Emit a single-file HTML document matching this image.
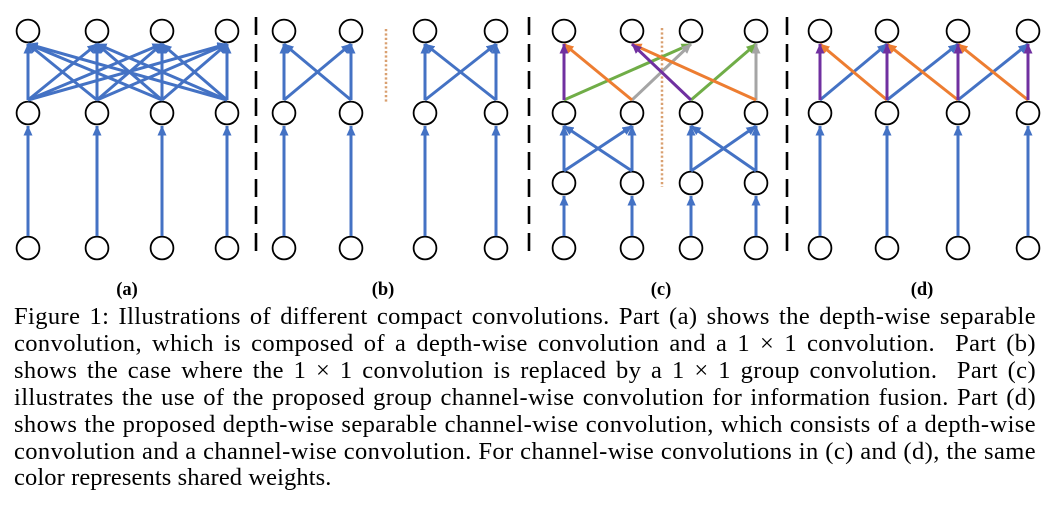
<!DOCTYPE html>
<html>
<head>
<meta charset="utf-8">
<style>
  html, body { margin:0; padding:0; background:#fff; }
  body { width:1058px; height:510px; overflow:hidden; position:relative; }
  svg { display:block; position:absolute; left:0; top:0; }
  .lab { font-family:"Liberation Serif", "Times New Roman", serif; font-size:18.5px; font-weight:bold; fill:#000; }
  #cap { position:absolute; left:14px; top:304.3px; width:1022px; font-family:"Liberation Serif", "Times New Roman", serif; font-size:24.5px; line-height:26.85px; color:#000; }
  #cap div { white-space:nowrap; text-align:justify; text-align-last:justify; height:26.85px; letter-spacing:0.4px; }
  #cap div.last { text-align:left; text-align-last:left; letter-spacing:0.1px; }
</style>
</head>
<body>
<svg width="1058" height="510" viewBox="0 0 1058 510" xmlns="http://www.w3.org/2000/svg">
  <defs>
    <marker id="mb" markerUnits="userSpaceOnUse" viewBox="0 0 10 9" refX="9.5" refY="4.5" markerWidth="10" markerHeight="9" orient="auto"><path d="M0,0 L10,4.5 L0,9 z" fill="#4472C4"/></marker>
    <marker id="mp" markerUnits="userSpaceOnUse" viewBox="0 0 10 9" refX="9.5" refY="4.5" markerWidth="10" markerHeight="9" orient="auto"><path d="M0,0 L10,4.5 L0,9 z" fill="#7030A0"/></marker>
    <marker id="mo" markerUnits="userSpaceOnUse" viewBox="0 0 10 9" refX="9.5" refY="4.5" markerWidth="10" markerHeight="9" orient="auto"><path d="M0,0 L10,4.5 L0,9 z" fill="#ED7D31"/></marker>
    <marker id="mg" markerUnits="userSpaceOnUse" viewBox="0 0 10 9" refX="9.5" refY="4.5" markerWidth="10" markerHeight="9" orient="auto"><path d="M0,0 L10,4.5 L0,9 z" fill="#70AD47"/></marker>
    <marker id="mr" markerUnits="userSpaceOnUse" viewBox="0 0 10 9" refX="9.5" refY="4.5" markerWidth="10" markerHeight="9" orient="auto"><path d="M0,0 L10,4.5 L0,9 z" fill="#A5A5A5"/></marker>
  </defs>

  <!-- circles -->
  <g fill="#fff" stroke="#000" stroke-width="1.8">
    <circle cx="28" cy="31" r="11.4"/><circle cx="97" cy="31" r="11.4"/><circle cx="162" cy="31" r="11.4"/><circle cx="227" cy="31" r="11.4"/>
    <circle cx="28" cy="113" r="11.4"/><circle cx="97" cy="113" r="11.4"/><circle cx="162" cy="113" r="11.4"/><circle cx="227" cy="113" r="11.4"/>
    <circle cx="28" cy="248" r="11.4"/><circle cx="97" cy="248" r="11.4"/><circle cx="162" cy="248" r="11.4"/><circle cx="227" cy="248" r="11.4"/>
    <circle cx="284" cy="31" r="11.4"/><circle cx="351" cy="31" r="11.4"/><circle cx="425" cy="31" r="11.4"/><circle cx="496" cy="31" r="11.4"/>
    <circle cx="284" cy="113" r="11.4"/><circle cx="351" cy="113" r="11.4"/><circle cx="425" cy="113" r="11.4"/><circle cx="496" cy="113" r="11.4"/>
    <circle cx="284" cy="248" r="11.4"/><circle cx="351" cy="248" r="11.4"/><circle cx="425" cy="248" r="11.4"/><circle cx="496" cy="248" r="11.4"/>
    <circle cx="564" cy="31" r="11.4"/><circle cx="632" cy="31" r="11.4"/><circle cx="691" cy="31" r="11.4"/><circle cx="756" cy="31" r="11.4"/>
    <circle cx="564" cy="113" r="11.4"/><circle cx="632" cy="113" r="11.4"/><circle cx="691" cy="113" r="11.4"/><circle cx="756" cy="113" r="11.4"/>
    <circle cx="564" cy="183" r="11.4"/><circle cx="632" cy="183" r="11.4"/><circle cx="691" cy="183" r="11.4"/><circle cx="756" cy="183" r="11.4"/>
    <circle cx="564" cy="248" r="11.4"/><circle cx="632" cy="248" r="11.4"/><circle cx="691" cy="248" r="11.4"/><circle cx="756" cy="248" r="11.4"/>
    <circle cx="820" cy="31" r="11.4"/><circle cx="887" cy="31" r="11.4"/><circle cx="958" cy="31" r="11.4"/><circle cx="1028" cy="31" r="11.4"/>
    <circle cx="820" cy="113" r="11.4"/><circle cx="887" cy="113" r="11.4"/><circle cx="958" cy="113" r="11.4"/><circle cx="1028" cy="113" r="11.4"/>
    <circle cx="820" cy="248" r="11.4"/><circle cx="887" cy="248" r="11.4"/><circle cx="958" cy="248" r="11.4"/><circle cx="1028" cy="248" r="11.4"/>
  </g>

  <!-- separators -->
  <g stroke="#000" stroke-width="2.6" stroke-dasharray="18 9">
    <line x1="256" y1="17" x2="256" y2="260"/>
    <line x1="529" y1="17" x2="529" y2="260"/>
    <line x1="787" y1="17" x2="787" y2="260"/>
  </g>
  <g stroke="#D9A070" stroke-width="2.5" stroke-dasharray="2.2 2.2">
    <line x1="386" y1="29" x2="386" y2="102"/>
    <line x1="662" y1="28" x2="662" y2="187"/>
  </g>

  <!-- blue arrows -->
  <g stroke="#4472C4" stroke-width="3" marker-end="url(#mb)" fill="none">
    <line x1="28" y1="236" x2="28" y2="126"/><line x1="97" y1="236" x2="97" y2="126"/><line x1="162" y1="236" x2="162" y2="126"/><line x1="227" y1="236" x2="227" y2="126"/>
    <line x1="28" y1="100" x2="28" y2="44"/><line x1="28" y1="100" x2="97" y2="44"/><line x1="28" y1="100" x2="162" y2="44"/><line x1="28" y1="100" x2="227" y2="44"/>
    <line x1="97" y1="100" x2="28" y2="44"/><line x1="97" y1="100" x2="97" y2="44"/><line x1="97" y1="100" x2="162" y2="44"/><line x1="97" y1="100" x2="227" y2="44"/>
    <line x1="162" y1="100" x2="28" y2="44"/><line x1="162" y1="100" x2="97" y2="44"/><line x1="162" y1="100" x2="162" y2="44"/><line x1="162" y1="100" x2="227" y2="44"/>
    <line x1="227" y1="100" x2="28" y2="44"/><line x1="227" y1="100" x2="97" y2="44"/><line x1="227" y1="100" x2="162" y2="44"/><line x1="227" y1="100" x2="227" y2="44"/>
    <line x1="284" y1="236" x2="284" y2="126"/><line x1="351" y1="236" x2="351" y2="126"/><line x1="425" y1="236" x2="425" y2="126"/><line x1="496" y1="236" x2="496" y2="126"/>
    <line x1="284" y1="100" x2="284" y2="44"/><line x1="284" y1="100" x2="351" y2="44"/><line x1="351" y1="100" x2="284" y2="44"/><line x1="351" y1="100" x2="351" y2="44"/>
    <line x1="425" y1="100" x2="425" y2="44"/><line x1="425" y1="100" x2="496" y2="44"/><line x1="496" y1="100" x2="425" y2="44"/><line x1="496" y1="100" x2="496" y2="44"/>
    <line x1="564" y1="236" x2="564" y2="196"/><line x1="632" y1="236" x2="632" y2="196"/><line x1="691" y1="236" x2="691" y2="196"/><line x1="756" y1="236" x2="756" y2="196"/>
    <line x1="564" y1="171" x2="564" y2="126"/><line x1="564" y1="171" x2="632" y2="126"/><line x1="632" y1="171" x2="564" y2="126"/><line x1="632" y1="171" x2="632" y2="126"/>
    <line x1="691" y1="171" x2="691" y2="126"/><line x1="691" y1="171" x2="756" y2="126"/><line x1="756" y1="171" x2="691" y2="126"/><line x1="756" y1="171" x2="756" y2="126"/>
    <line x1="820" y1="236" x2="820" y2="126"/><line x1="887" y1="236" x2="887" y2="126"/><line x1="958" y1="236" x2="958" y2="126"/><line x1="1028" y1="236" x2="1028" y2="126"/>
    <line x1="820" y1="100" x2="887" y2="44"/><line x1="887" y1="100" x2="958" y2="44"/><line x1="958" y1="100" x2="1028" y2="44"/>
  </g>

  <!-- (c) channel-wise colored -->
  <g stroke-width="3" fill="none">
    <line x1="564" y1="100" x2="691" y2="44" stroke="#70AD47" marker-end="url(#mg)"/>
    <line x1="691" y1="100" x2="756" y2="44" stroke="#70AD47" marker-end="url(#mg)"/>
    <line x1="632" y1="100" x2="691" y2="44" stroke="#A5A5A5" marker-end="url(#mr)"/>
    <line x1="756" y1="100" x2="756" y2="44" stroke="#A5A5A5" marker-end="url(#mr)"/>
    <line x1="632" y1="100" x2="564" y2="44" stroke="#ED7D31" marker-end="url(#mo)"/>
    <line x1="756" y1="100" x2="632" y2="44" stroke="#ED7D31" marker-end="url(#mo)"/>
    <line x1="564" y1="100" x2="564" y2="44" stroke="#7030A0" marker-end="url(#mp)"/>
    <line x1="691" y1="100" x2="632" y2="44" stroke="#7030A0" marker-end="url(#mp)"/>
  </g>

  <!-- (d) orange and purple -->
  <g stroke-width="3" fill="none">
    <line x1="887" y1="100" x2="820" y2="44" stroke="#ED7D31" marker-end="url(#mo)"/>
    <line x1="958" y1="100" x2="887" y2="44" stroke="#ED7D31" marker-end="url(#mo)"/>
    <line x1="1028" y1="100" x2="958" y2="44" stroke="#ED7D31" marker-end="url(#mo)"/>
    <line x1="820" y1="100" x2="820" y2="44" stroke="#7030A0" marker-end="url(#mp)"/>
    <line x1="887" y1="100" x2="887" y2="44" stroke="#7030A0" marker-end="url(#mp)"/>
    <line x1="958" y1="100" x2="958" y2="44" stroke="#7030A0" marker-end="url(#mp)"/>
    <line x1="1028" y1="100" x2="1028" y2="44" stroke="#7030A0" marker-end="url(#mp)"/>
  </g>

  <text class="lab" x="127" y="295" text-anchor="middle">(a)</text>
  <text class="lab" x="383" y="295" text-anchor="middle">(b)</text>
  <text class="lab" x="661" y="295" text-anchor="middle">(c)</text>
  <text class="lab" x="922" y="295" text-anchor="middle">(d)</text>
</svg>

<div id="cap">
  <div>Figure 1: Illustrations of different compact convolutions. Part (a) shows the depth-wise separable</div>
  <div>convolution, which is composed of a depth-wise convolution and a 1 × 1 convolution.&nbsp; Part (b)</div>
  <div>shows the case where the 1 × 1 convolution is replaced by a 1 × 1 group convolution.&nbsp; Part (c)</div>
  <div>illustrates the use of the proposed group channel-wise convolution for information fusion. Part (d)</div>
  <div>shows the proposed depth-wise separable channel-wise convolution, which consists of a depth-wise</div>
  <div>convolution and a channel-wise convolution. For channel-wise convolutions in (c) and (d), the same</div>
  <div class="last">color represents shared weights.</div>
</div>
</body>
</html>
